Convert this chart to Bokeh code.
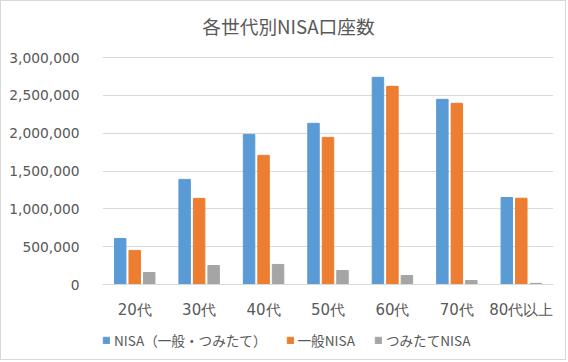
from bokeh.plotting import figure
from bokeh.models import (FactorRange, Range1d, FixedTicker, NumeralTickFormatter,
                          Legend, LegendItem, Label, ColumnDataSource)
from bokeh.transform import dodge
from bokeh.embed import file_html
from bokeh.resources import INLINE

categories = ["20代", "30代", "40代", "50代", "60代", "70代", "80代以上"]
nisa_total = [608000, 1389000, 1984000, 2130000, 2738000, 2447000, 1150000]
nisa_general = [450000, 1138000, 1706000, 1944000, 2619000, 2394000, 1140000]
nisa_tsumitate = [159000, 251000, 265000, 185000, 119000, 53000, 15000]
series_names = ["NISA（一般・つみたて）", "一般NISA", "つみたてNISA"]
y_ticks = [0, 500000, 1000000, 1500000, 2000000, 2500000, 3000000]
title_text = "各世代別NISA口座数"

colors = ["#5B9BD5", "#ED7D31", "#A5A5A5"]
FONT = "Noto Sans CJK JP"
NUMFONT = "DejaVu Sans"
TXT = "#595959"

# layout: frame spans the whole figure height; value axis 0..3M occupies 227 px
W, H = 566, 360
top_px, zero_px, frame_top_px = 56, 283, 0
per_px = y_ticks[-1] / (zero_px - top_px)
y_end = y_ticks[-1] + (top_px - frame_top_px) * per_px
y_start = -(H - zero_px) * per_px

src = ColumnDataSource(dict(cat=categories, a=nisa_total, b=nisa_general, c=nisa_tsumitate))

p = figure(width=W, height=H, x_range=FactorRange(*categories),
           y_range=Range1d(y_start, y_end), output_backend="svg", toolbar_location=None,
           min_border_left=101, min_border_right=14, min_border_top=0, min_border_bottom=0)
p.styles = {"border": "1px solid #d9d9d9"}
p.outline_line_color = None
p.background_fill_color = "white"

bw = 0.178
step = 0.225
r1 = p.vbar(x=dodge("cat", -step, range=p.x_range), top="a", width=bw, source=src, color=colors[0])
r2 = p.vbar(x=dodge("cat", 0, range=p.x_range), top="b", width=bw, source=src, color=colors[1])
r3 = p.vbar(x=dodge("cat", step, range=p.x_range), top="c", width=bw, source=src, color=colors[2])

p.xgrid.grid_line_color = None
p.ygrid.grid_line_color = "#d9d9d9"
p.ygrid.grid_line_width = 1

p.yaxis.ticker = FixedTicker(ticks=y_ticks)
p.yaxis.formatter = NumeralTickFormatter(format="0,0")
p.yaxis.axis_line_color = None
p.yaxis.major_tick_line_color = None
p.yaxis.minor_tick_line_color = None
p.yaxis.major_label_standoff = 17
p.yaxis.major_label_text_font = NUMFONT
p.yaxis.major_label_text_font_size = "13.8px"
p.yaxis.major_label_text_color = TXT

p.xaxis.fixed_location = 0
p.xaxis.axis_line_color = "#d9d9d9"
p.xaxis.major_tick_line_color = None
p.xaxis.minor_tick_line_color = None
p.xaxis.major_label_standoff = 10
p.xaxis.major_label_text_font = NUMFONT
p.xaxis.major_label_text_font_size = "15px"
p.xaxis.major_label_text_color = TXT

title = Label(x=186, y=H - 24, x_units="screen", y_units="screen", text=title_text,
              text_align="center", text_baseline="middle", text_font=FONT,
              text_font_size="18.7px", text_color=TXT)
p.add_layout(title)

legend = Legend(items=[LegendItem(label=series_names[0], renderers=[r1]),
                       LegendItem(label=series_names[1], renderers=[r2]),
                       LegendItem(label=series_names[2], renderers=[r3])],
                location=(0, 11), orientation="horizontal",
                glyph_width=8, glyph_height=8, label_standoff=4, spacing=19,
                padding=0, margin=0, border_line_color=None, background_fill_alpha=0,
                label_text_font=FONT, label_text_font_size="13.6px", label_text_color=TXT,
                label_height=20)
p.add_layout(legend, "center")

open("out.html", "w").write(file_html(p, INLINE))
